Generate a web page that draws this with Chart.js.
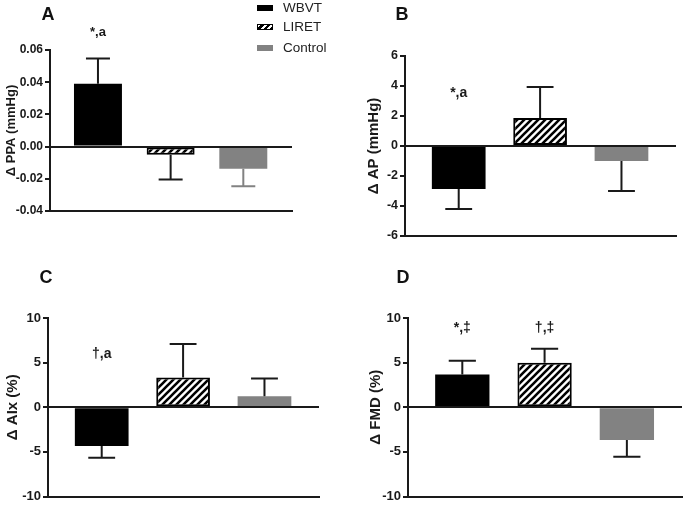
<!DOCTYPE html>
<html>
<head>
<meta charset="utf-8">
<script src="https://cdn.jsdelivr.net/npm/chart.js@4.4.1/dist/chart.umd.min.js"></script>
<style>
  body { margin: 0; background: #fff; }
  #wrap { position: relative; width: 685px; height: 505px; overflow: hidden;
          font-family: "Liberation Sans", Arial, sans-serif; }
  #wrap canvas { position: absolute; left: 0; top: 0; }
  .tag { position: absolute; font-weight: bold; font-size: 18px; color: #111;
         transform: translate(-50%, -50%); line-height: 1; }
  .sw { position: absolute; left: 257px; width: 16px; height: 6px; }
  .lt { position: absolute; left: 283px; font-size: 13.5px; color: #222;
        line-height: 16px; }
</style>
</head>
<body>
<div id="wrap">
  <canvas id="cA" width="685" height="505"></canvas>
  <canvas id="cB" width="685" height="505"></canvas>
  <canvas id="cC" width="685" height="505"></canvas>
  <canvas id="cD" width="685" height="505"></canvas>

  <div class="tag" style="left:48px;top:14px">A</div>
  <div class="tag" style="left:402px;top:14px">B</div>
  <div class="tag" style="left:46px;top:277px">C</div>
  <div class="tag" style="left:403px;top:277px">D</div>

  <div class="sw" style="top:5px;background:#000"></div>
  <div class="lt" style="top:0px">WBVT</div>
  <div class="sw" style="top:24px;box-sizing:border-box;border:1px solid #000;
       background:repeating-linear-gradient(135deg,#fff 0 2px,#000 2px 4.5px)"></div>
  <div class="lt" style="top:19px">LIRET</div>
  <div class="sw" style="top:45px;background:#828282"></div>
  <div class="lt" style="top:40px">Control</div>
</div>

<script>
// ── Data ──────────────────────────────────────────────────────
const groups = ['WBVT', 'LIRET', 'Control'];

const ppaMean = [0.039, -0.005, -0.0137];
const ppaSem  = [0.0157, 0.0155, 0.011];
const ppaTicks = [-0.04, -0.02, 0, 0.02, 0.04, 0.06];
const ppaNotes = ['*,a', '', ''];
const ppaNoteY = 0.071;

const apMean = [-2.87, 1.87, -1.0];
const apSem  = [1.33, 2.06, 2.0];
const apTicks = [-6, -4, -2, 0, 2, 4, 6];
const apNotes = ['*,a', '', ''];
const apNoteY = 3.55;

const aixMean = [-4.33, 3.33, 1.22];
const aixSem  = [1.34, 3.77, 2.0];
const pctTicks = [-10, -5, 0, 5, 10];
const aixNotes = ['†,a', '', ''];
const aixNoteY = 6.0;

const fmdMean = [3.67, 5.0, -3.67];
const fmdSem  = [1.55, 1.56, 1.89];
const fmdNotes = ['*,‡', '†,‡', ''];
const fmdNoteY = 8.9;

// ── Helpers ──────────────────────────────────────────────────
const INK = '#1a1a1a';
const GREY = '#828282';
const FONT = '"Liberation Sans", Arial, sans-serif';

function hatchPattern() {
  const c = document.createElement('canvas');
  c.width = c.height = 7;
  const g = c.getContext('2d');
  g.fillStyle = '#fff';
  g.fillRect(0, 0, 7, 7);
  g.strokeStyle = '#000';
  g.lineWidth = 2.6;
  g.beginPath();
  g.moveTo(-1, 8); g.lineTo(8, -1);
  g.moveTo(-1, 1); g.lineTo(1, -1);
  g.moveTo(6, 8);  g.lineTo(8, 6);
  g.stroke();
  return g.createPattern(c, 'repeat');
}
const HATCH = hatchPattern();

// error bars, drawn away from zero, cap = half the bar width
const errorBars = {
  id: 'errorBars',
  afterDatasetsDraw(chart, args, opts) {
    const ctx = chart.ctx;
    const y = chart.scales.y;
    const ds = chart.data.datasets[0];
    chart.getDatasetMeta(0).data.forEach((bar, i) => {
      const v = ds.data[i].y;
      const end = y.getPixelForValue(v + Math.sign(v) * opts.sem[i]);
      const half = bar.width / 4;
      ctx.save();
      ctx.strokeStyle = opts.colors[i];
      ctx.lineWidth = 2;
      ctx.beginPath();
      ctx.moveTo(bar.x, bar.y);
      ctx.lineTo(bar.x, end);
      ctx.moveTo(bar.x - half, end);
      ctx.lineTo(bar.x + half, end);
      ctx.stroke();
      ctx.restore();
    });
  }
};

// significance marks above the bars
const notes = {
  id: 'notes',
  afterDraw(chart, args, opts) {
    const ctx = chart.ctx;
    const py = chart.scales.y.getPixelForValue(opts.y);
    ctx.save();
    ctx.font = `bold ${opts.size}px ${FONT}`;
    ctx.fillStyle = INK;
    ctx.textAlign = 'center';
    ctx.textBaseline = 'middle';
    opts.labels.forEach((t, i) => {
      if (!t) return;
      ctx.fillText(t, chart.scales.x.getPixelForValue(i + 1), py);
    });
    ctx.restore();
  }
};

function makePanel(p) {
  new Chart(document.getElementById(p.id), {
    type: 'bar',
    data: {
      datasets: [{
        data: p.mean.map((v, i) => ({ x: i + 1, y: v })),
        backgroundColor: ['#000', HATCH, GREY],
        borderColor: ['#000', '#000', GREY],
        borderWidth: [0, 2, 0],
        borderSkipped: false,
        barPercentage: 0.66,
        categoryPercentage: 1
      }]
    },
    options: {
      responsive: false,
      animation: false,
      devicePixelRatio: 1,
      layout: {
        padding: {
          left: p.left - p.axisW,
          top: p.top,
          right: 685 - p.right,
          bottom: 505 - p.bottom
        }
      },
      scales: {
        x: {
          type: 'linear',
          offset: false,
          min: 0.34,
          max: 3.67,
          afterBuildTicks: s => { s.ticks = groups.map((_, i) => ({ value: i + 1 })); },
          afterFit: s => { s.height = 0; },
          ticks: { display: false },
          grid: { display: false, offset: false },
          border: { color: INK, width: 2 }
        },
        y: {
          min: p.ticks[0],
          max: p.ticks[p.ticks.length - 1],
          afterBuildTicks: s => { s.ticks = p.ticks.map(v => ({ value: v })); },
          afterFit: s => { s.width = p.axisW; },
          ticks: {
            color: INK,
            padding: 2,
            font: { family: FONT, size: p.tickSize, weight: 'bold', lineHeight: 1 },
            callback: v => p.fmt(v)
          },
          grid: {
            color: c => Math.abs(c.tick.value) < 1e-9 ? INK : 'rgba(0,0,0,0)',
            lineWidth: 2,
            tickColor: INK,
            tickLength: 5,
            z: 1
          },
          border: { color: INK, width: 2, z: 2 },
          title: {
            display: true,
            text: p.title,
            color: INK,
            font: { family: FONT, size: p.titleSize, weight: 'bold' }
          }
        }
      },
      plugins: {
        legend: { display: false },
        tooltip: { enabled: false },
        errorBars: { sem: p.sem, colors: p.errColors },
        notes: { labels: p.notes, y: p.noteY, size: p.noteSize }
      }
    },
    plugins: [errorBars, notes]
  });
}

makePanel({
  id: 'cA', left: 50, right: 292, top: 50, bottom: 211, axisW: 50,
  mean: ppaMean, sem: ppaSem, ticks: ppaTicks, fmt: v => v.toFixed(2),
  title: 'Δ PPA (mmHg)', titleSize: 13, tickSize: 12,
  notes: ppaNotes, noteY: ppaNoteY, noteSize: 13,
  errColors: [INK, INK, GREY]
});
makePanel({
  id: 'cB', left: 405, right: 676, top: 56, bottom: 236, axisW: 44,
  mean: apMean, sem: apSem, ticks: apTicks, fmt: v => String(v),
  title: 'Δ AP (mmHg)', titleSize: 15, tickSize: 12.5,
  notes: apNotes, noteY: apNoteY, noteSize: 14,
  errColors: [INK, INK, INK]
});
makePanel({
  id: 'cC', left: 48, right: 319, top: 318, bottom: 498, axisW: 48,
  mean: aixMean, sem: aixSem, ticks: pctTicks, fmt: v => String(v),
  title: 'Δ AIx (%)', titleSize: 15, tickSize: 13,
  notes: aixNotes, noteY: aixNoteY, noteSize: 14,
  errColors: [INK, INK, INK]
});
makePanel({
  id: 'cD', left: 408, right: 682, top: 318, bottom: 498, axisW: 45,
  mean: fmdMean, sem: fmdSem, ticks: pctTicks, fmt: v => String(v),
  title: 'Δ FMD (%)', titleSize: 15, tickSize: 13,
  notes: fmdNotes, noteY: fmdNoteY, noteSize: 14,
  errColors: [INK, INK, INK]
});
</script>
</body>
</html>
